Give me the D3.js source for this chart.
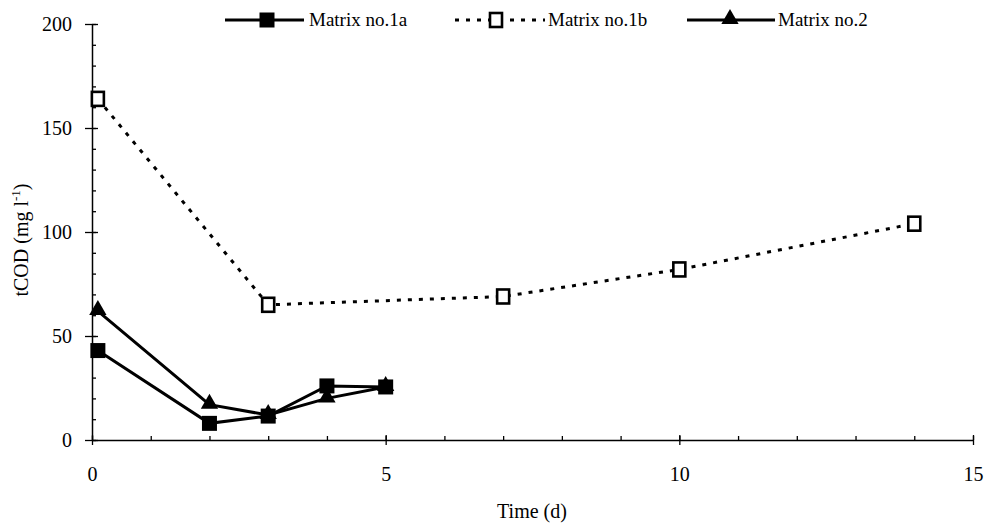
<!DOCTYPE html>
<meta charset="utf-8">
<style>
body { margin: 0; background: #fff; }
text { font-family: "Liberation Serif", "DejaVu Serif", serif; fill: #000; }
</style>
<body>
<svg width="987" height="525"></svg>
<script src="https://d3js.org/d3.v7.min.js"></script>
<script>
// values
var t1a = [0.1, 2, 3, 4, 5],
    v1a = [43, 8, 11.5, 26, 25.5];
var t1b = [0.1, 3, 7, 10, 14],
    v1b = [164, 65, 69, 82, 104];
var t2 = [0.1, 2, 3, 4, 5],
    v2 = [62, 17, 12, 20, 25.5];
var xTicks = [0, 5, 10, 15],
    yTicks = [0, 50, 100, 150, 200];

var svg = d3.select("svg");

var x = d3.scaleLinear().domain([0, 15]).range([92, 973]);
var y = d3.scaleLinear().domain([0, 200]).range([440, 24]);

// minor ticks first
svg.append("g")
  .attr("transform", "translate(0,440)")
  .call(d3.axisBottom(x).tickValues(d3.range(0, 16, 1)).tickSize(-4).tickFormat(""))
  .call(function(g) { g.select(".domain").remove(); });

svg.append("g")
  .attr("transform", "translate(92,0)")
  .call(d3.axisLeft(y).tickValues(d3.range(0, 201, 10)).tickSize(-4).tickFormat(""))
  .call(function(g) { g.select(".domain").remove(); });

var xAxis = svg.append("g")
  .attr("transform", "translate(0,440)")
  .call(d3.axisBottom(x).tickValues(xTicks).tickSize(5).tickPadding(22).tickSizeOuter(0));
xAxis.selectAll(".tick line").attr("y1", -5);
xAxis.selectAll(".tick text").style("font-size", "20px");

var yAxis = svg.append("g")
  .attr("transform", "translate(92,0)")
  .call(d3.axisLeft(y).tickValues(yTicks).tickSize(7).tickPadding(13).tickSizeOuter(0));
yAxis.selectAll(".tick line").attr("x1", 6);
yAxis.selectAll(".tick text").style("font-size", "20px");

svg.selectAll(".domain").attr("stroke-width", 1.5);
svg.selectAll(".tick line").attr("stroke-width", 1.3);

svg.append("text")
  .attr("x", 532).attr("y", 518)
  .attr("text-anchor", "middle")
  .style("font-size", "20px")
  .text("Time (d)");

var yl = svg.append("text")
  .attr("transform", "translate(28,240) rotate(-90)")
  .attr("text-anchor", "middle")
  .style("font-size", "20px");
yl.append("tspan").text("tCOD (mg l");
yl.append("tspan").attr("dy", -8).style("font-size", "13px").text("-1");
yl.append("tspan").attr("dy", 8).text(")");

var line = d3.line().x(function(d) { return x(d[0]); }).y(function(d) { return y(d[1]); });

function pairs(t, v) { return t.map(function(d, i) { return [d, v[i]]; }); }

var d1a = pairs(t1a, v1a), d1b = pairs(t1b, v1b), d2 = pairs(t2, v2);

svg.append("path").datum(d1b).attr("d", line)
  .attr("fill", "none").attr("stroke", "#000").attr("stroke-width", 3)
  .attr("stroke-dasharray", "4,7");
svg.append("path").datum(d2).attr("d", line)
  .attr("fill", "none").attr("stroke", "#000").attr("stroke-width", 3);
svg.append("path").datum(d1a).attr("d", line)
  .attr("fill", "none").attr("stroke", "#000").attr("stroke-width", 3);

var tri = d3.symbol().type(d3.symbolTriangle).size(130);

function drawTri(sel, px, py) {
  sel.append("path").attr("d", tri).attr("transform", "translate(" + px + "," + (py - 1) + ")")
    .attr("fill", "#000");
}
function drawFill(sel, px, py) {
  sel.append("rect").attr("x", px - 7.5).attr("y", py - 7.5).attr("width", 15).attr("height", 15)
    .attr("fill", "#000");
}
function drawOpen(sel, px, py) {
  sel.append("rect").attr("x", px - 6).attr("y", py - 7).attr("width", 12).attr("height", 14)
    .attr("fill", "#fff").attr("stroke", "#000").attr("stroke-width", 2.6);
}

var marks = svg.append("g");
d1b.forEach(function(d) { drawOpen(marks, x(d[0]), y(d[1])); });
d2.forEach(function(d) { drawTri(marks, x(d[0]), y(d[1])); });
d1a.forEach(function(d) { drawFill(marks, x(d[0]), y(d[1])); });

// legend
var leg = svg.append("g");
var ly = 20;
leg.append("line").attr("x1", 225).attr("x2", 304).attr("y1", ly).attr("y2", ly)
  .attr("stroke", "#000").attr("stroke-width", 3);
drawFill(leg, 267, ly);
leg.append("text").attr("x", 309).attr("y", ly + 6).style("font-size", "19px").text("Matrix no.1a");

leg.append("line").attr("x1", 455).attr("x2", 545).attr("y1", ly).attr("y2", ly)
  .attr("stroke", "#000").attr("stroke-width", 3).attr("stroke-dasharray", "4,7");
drawOpen(leg, 496, ly);
leg.append("text").attr("x", 548).attr("y", ly + 6).style("font-size", "19px").text("Matrix no.1b");

leg.append("line").attr("x1", 687).attr("x2", 775).attr("y1", ly).attr("y2", ly)
  .attr("stroke", "#000").attr("stroke-width", 3);
drawTri(leg, 730, ly);
leg.append("text").attr("x", 778).attr("y", ly + 6).style("font-size", "19px").text("Matrix no.2");
</script>
</body>
